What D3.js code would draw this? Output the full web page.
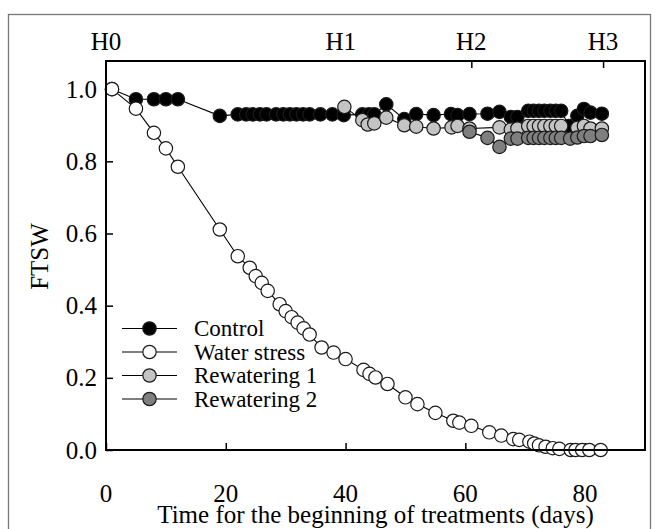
<!DOCTYPE html>
<html><head><meta charset="utf-8">
<script src="https://cdn.jsdelivr.net/npm/d3@7"></script>
<style>html,body{margin:0;padding:0;background:#fff;}svg{display:block;}</style>
</head><body>
<script>
// ---- data ----
const controlDays = [1,5,8,10,12,19,22,23.4,24.5,25.7,26.8,28.4,29.6,30.7,31.8,32.9,34,35.8,37.8,39.7,42.8,43.9,44.8,46.8,49.8,51.8,54.7,57.6,58.7,60.7,63.7,65.7,67.6,68.7,70.5,71.4,72.3,73.2,74.2,75.1,76,77.3,78.7,79.8,80.9,82.8];
const controlVals = [1.0,0.972,0.972,0.972,0.972,0.926,0.930,0.930,0.930,0.930,0.930,0.930,0.930,0.930,0.930,0.930,0.930,0.930,0.930,0.928,0.930,0.930,0.930,0.958,0.917,0.931,0.928,0.931,0.928,0.931,0.932,0.937,0.923,0.923,0.940,0.940,0.940,0.940,0.940,0.940,0.940,0.898,0.926,0.945,0.935,0.932];

const stressDays = [1,5,8,10,12,19,22,24,25,26,27,29,30,31,32,33,34,36,38,40,43,44,45,47,50,52,55,58,59,61,64,66,68,69,70.7,71.5,72.3,73.4,74.6,75.7,77.6,78.4,79.5,80.7,82.6];
const stressVals = [1.0,0.946,0.879,0.836,0.785,0.611,0.537,0.505,0.482,0.463,0.441,0.404,0.385,0.368,0.353,0.337,0.320,0.284,0.270,0.252,0.222,0.211,0.201,0.183,0.146,0.127,0.103,0.081,0.076,0.067,0.049,0.040,0.030,0.028,0.023,0.018,0.013,0.009,0.005,0.003,0.0,0.0,0.0,0.0,0.0];

const rew1Days = [39.8,42.8,43.7,44.8,46.8,49.8,51.8,54.7,57.7,58.7,60.7,65.7,67.6,68.7,70.5,71.4,72.3,73.2,74.2,75.1,76,78.7,79.8,80.9,82.8];
const rew1Vals = [0.951,0.914,0.902,0.905,0.921,0.900,0.896,0.891,0.894,0.898,0.891,0.894,0.888,0.891,0.898,0.898,0.898,0.898,0.898,0.898,0.898,0.893,0.898,0.891,0.891];

const rew2Days = [60.7,63.7,65.7,67.6,68.7,70.5,71.4,72.3,73.2,74.2,75.1,76,77.5,78.7,79.8,80.9,82.8];
const rew2Vals = [0.882,0.865,0.840,0.863,0.863,0.865,0.865,0.865,0.865,0.865,0.865,0.865,0.863,0.866,0.870,0.870,0.873];

const seriesNames = ["Control","Water stress","Rewatering 1","Rewatering 2"];
const seriesFills = ["#000000","#ffffff","#c4c4c4","#7f7f7f"];

const xTicks = [0,20,40,60,80];
const yTicks = [0.0,0.2,0.4,0.6,0.8,1.0];
const harvestLabels = ["H0","H1","H2","H3"];
const harvestDays = [0,39.2,61,83];
const harvestTickDays = [61,83];

// ---- layout ----
const W = 655, H = 529;
const FONT = '"Liberation Serif"';
const svg = d3.select("body").append("svg").attr("width",W).attr("height",H);

svg.append("rect").attr("x",8.5).attr("y",14.5).attr("width",642).attr("height",530)
  .attr("fill","none").attr("stroke","#777").attr("stroke-width",1.3);

const L = 106, R = 645, T = 61, B = 450;
const x = d3.scaleLinear().domain([0,90]).range([L,R]);
const y = d3.scaleLinear().domain([0,1.078]).range([B,T]);

const g = svg.append("g");

// axes (inward ticks)
const xAxis = d3.axisTop(x).tickValues(xTicks).tickSize(7).tickFormat("");
g.append("g").attr("transform",`translate(0,${B})`).call(xAxis)
  .call(s=>s.select(".domain").remove())
  .call(s=>s.selectAll("line").attr("stroke","#000").attr("stroke-width",1.5));
const yAxis = d3.axisRight(y).tickValues(yTicks).tickSize(7).tickFormat("");
g.append("g").attr("transform",`translate(${L},0)`).call(yAxis)
  .call(s=>s.select(".domain").remove())
  .call(s=>s.selectAll("line").attr("stroke","#000").attr("stroke-width",1.5));
const topAxis = d3.axisBottom(x).tickValues(harvestTickDays).tickSize(7).tickFormat("");
g.append("g").attr("transform",`translate(0,${T})`).call(topAxis)
  .call(s=>s.select(".domain").remove())
  .call(s=>s.selectAll("line").attr("stroke","#000").attr("stroke-width",1.5));

const fs = 25;
// tick labels
g.selectAll(".xl").data(xTicks).join("text")
  .attr("x",d=>x(d)).attr("y",B+52).attr("text-anchor","middle")
  .style("font-family",FONT).attr("font-size",fs).text(d=>d);
g.selectAll(".yl").data(yTicks).join("text")
  .attr("x",L-9).attr("y",d=>y(d)+8.5).attr("text-anchor","end")
  .style("font-family",FONT).attr("font-size",fs).text(d=>d.toFixed(1));
g.selectAll(".hl").data(harvestLabels).join("text")
  .attr("x",(d,i)=>x(harvestDays[i])).attr("y",T-11).attr("text-anchor","middle")
  .style("font-family",FONT).attr("font-size",fs).text(d=>d);

svg.append("text").attr("x",(L+R)/2).attr("y",523).attr("text-anchor","middle")
  .style("font-family",FONT).attr("font-size",25).text("Time for the beginning of treatments (days)");
svg.append("text").attr("transform",`translate(48,${(T+B)/2+1}) rotate(-90)`).attr("text-anchor","middle")
  .style("font-family",FONT).attr("font-size",fs).text("FTSW");

// series
const series = [
  controlDays.map((d,i)=>[d,controlVals[i]]),
  stressDays.map((d,i)=>[d,stressVals[i]]),
  rew1Days.map((d,i)=>[d,rew1Vals[i]]),
  rew2Days.map((d,i)=>[d,rew2Vals[i]])
];
const line = d3.line().x(d=>x(d[0])).y(d=>y(d[1]));
const r = 6.7;
series.forEach((pts,k)=>{
  g.append("path").attr("d",line(pts)).attr("fill","none").attr("stroke","#000").attr("stroke-width",1.1);
  g.selectAll(null).data(pts).join("circle")
    .attr("cx",d=>x(d[0])).attr("cy",d=>y(d[1])).attr("r",r)
    .attr("fill",seriesFills[k]).attr("stroke","#1a1a1a").attr("stroke-width",1.2);
});

// legend
const lgX0 = 122, lgX1 = 177, lgY0 = 328.5, lgDy = 23.5;
seriesNames.forEach((name,i)=>{
  const yy = lgY0 + i*lgDy;
  g.append("line").attr("x1",lgX0).attr("x2",lgX1).attr("y1",yy).attr("y2",yy).attr("stroke","#000").attr("stroke-width",1.1);
  g.append("circle").attr("cx",(lgX0+lgX1)/2).attr("cy",yy).attr("r",r)
    .attr("fill",seriesFills[i]).attr("stroke","#1a1a1a").attr("stroke-width",1.2);
  g.append("text").attr("x",194).attr("y",yy+7.5).style("font-family",FONT).attr("font-size",23).text(name);
});

// plot frame
g.append("rect").attr("x",L).attr("y",T).attr("width",R-L).attr("height",B-T)
  .attr("fill","none").attr("stroke","#000").attr("stroke-width",2);
</script>
</body></html>
